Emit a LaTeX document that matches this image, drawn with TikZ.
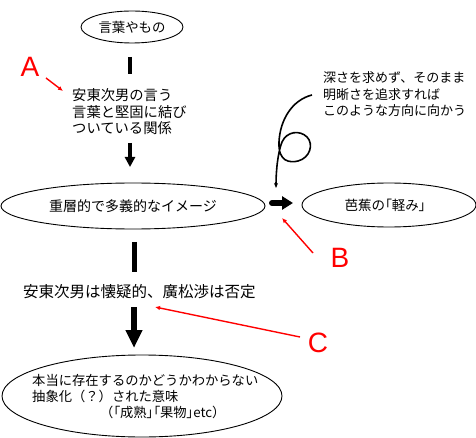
\documentclass[tikz,border=0pt]{standalone}
\usepackage{fontspec}
\setmainfont{Noto Sans CJK JP}
\newfontfamily\jpp[RawFeature=+palt]{Noto Sans CJK JP}
\newfontfamily\latf{Liberation Sans}
\usetikzlibrary{shapes.geometric,arrows.meta}
\definecolor{redc}{RGB}{255,0,0}
\begin{document}
\begin{tikzpicture}[x=1pt,y=-1pt,
  ell/.style={ellipse,draw=black,line width=0.9pt,inner sep=0pt},
  txt/.style={inner sep=0pt,align=left,anchor=west},
  thickline/.style={line width=4pt,black},
  redletter/.style={text=redc,inner sep=0pt,font=\latf\fontsize{28}{28}\selectfont},
  redptr/.style={draw=redc,line width=1.4pt,-{Latex[length=5pt,width=4.5pt]}},
]
\useasboundingbox (0,0) rectangle (476,438);
% ellipses
\node[ell,minimum width=102pt,minimum height=32pt,font=\fontsize{13.4}{16}\selectfont] (top) at (132,27) {言葉やもの};
\node[ell,minimum width=264pt,minimum height=46pt,font=\fontsize{14}{16}\selectfont] (mid) at (133,206) {重層的で多義的なイメージ};
\node[ell,minimum width=174pt,minimum height=44pt,font=\fontsize{13.5}{16}\selectfont] (right) at (389,205) {\hspace*{-8pt}芭蕉の{\jpp 「}軽み{\jpp 」}};
\node[ell,minimum width=280pt,minimum height=82pt] (bot) at (142,396) {};
% texts
\node[txt,font=\fontsize{14.3}{16.5}\selectfont] (ta) at (72,112) {安東次男の言う\\言葉と堅固に結び\\ついている関係};
\node[txt,font=\fontsize{13}{16.5}\selectfont] (tr) at (323,94.5) {深さを求めず、そのまま\\明晰さを追求すれば\\このような方向に向かう};
\node[txt,font=\fontsize{15.5}{18}\selectfont] (tc) at (23,291.5) {安東次男は懐疑的、廣松渉は否定};
\node[txt,font=\fontsize{13.3}{16}\selectfont] (tb) at (32,397) {本当に存在するのかどうかわからない\\抽象化（？）された意味\\\hspace*{68pt}（{\jpp 「成熟」「果物」etc}）};
% thick connectors
\coordinate (l1a) at (130,57); \coordinate (l1b) at (130,74);
\draw[thickline] (l1a) -- (l1b);
\coordinate (l2a) at (130,143); \coordinate (l2b) at (130,167);
\draw[thickline,-{Triangle[width=10pt,length=10pt]}] (l2a) -- (l2b);
\coordinate (l3a) at (134,242); \coordinate (l3b) at (134,272);
\draw[thickline,line width=5pt] (l3a) -- (l3b);
\coordinate (l4a) at (134,307); \coordinate (l4b) at (134,348);
\draw[thickline,line width=6pt,-{Triangle[width=16pt,length=18pt]}] (l4a) -- (l4b);
\coordinate (l5a) at (272,203); \coordinate (l5b) at (293,203);
\draw[thickline,line width=6pt,line cap=round,-{Triangle[width=13pt,length=11pt]}] (l5a) -- (l5b);
% curly arrow
\coordinate (cs) at (312,95); \coordinate (ce) at (276,188);
\draw[line width=1.6pt,-{Stealth[length=5pt,width=4pt]}] (cs) .. controls (292,100) and (280,120) .. (279,142)
  .. controls (278,162) and (290,163) .. (298,161)
  .. controls (310,158) and (314,144) .. (307,137)
  .. controls (300,130) and (287,131) .. (282,142)
  .. controls (278,152) and (276,170) .. (ce);
% red labels
\node[redletter] (A) at (30,67) {A};
\node[redletter] (B) at (340,258) {B};
\node[redletter] (C) at (318,343) {C};
\coordinate (ra1) at (46,78); \coordinate (ra2) at (63,91);
\draw[redptr] (ra1) -- (ra2);
\coordinate (rb1) at (313,253); \coordinate (rb2) at (282,218);
\draw[redptr] (rb1) -- (rb2);
\coordinate (rc1) at (300,337); \coordinate (rc2) at (155,307);
\draw[redptr] (rc1) -- (rc2);
\end{tikzpicture}
\end{document}
